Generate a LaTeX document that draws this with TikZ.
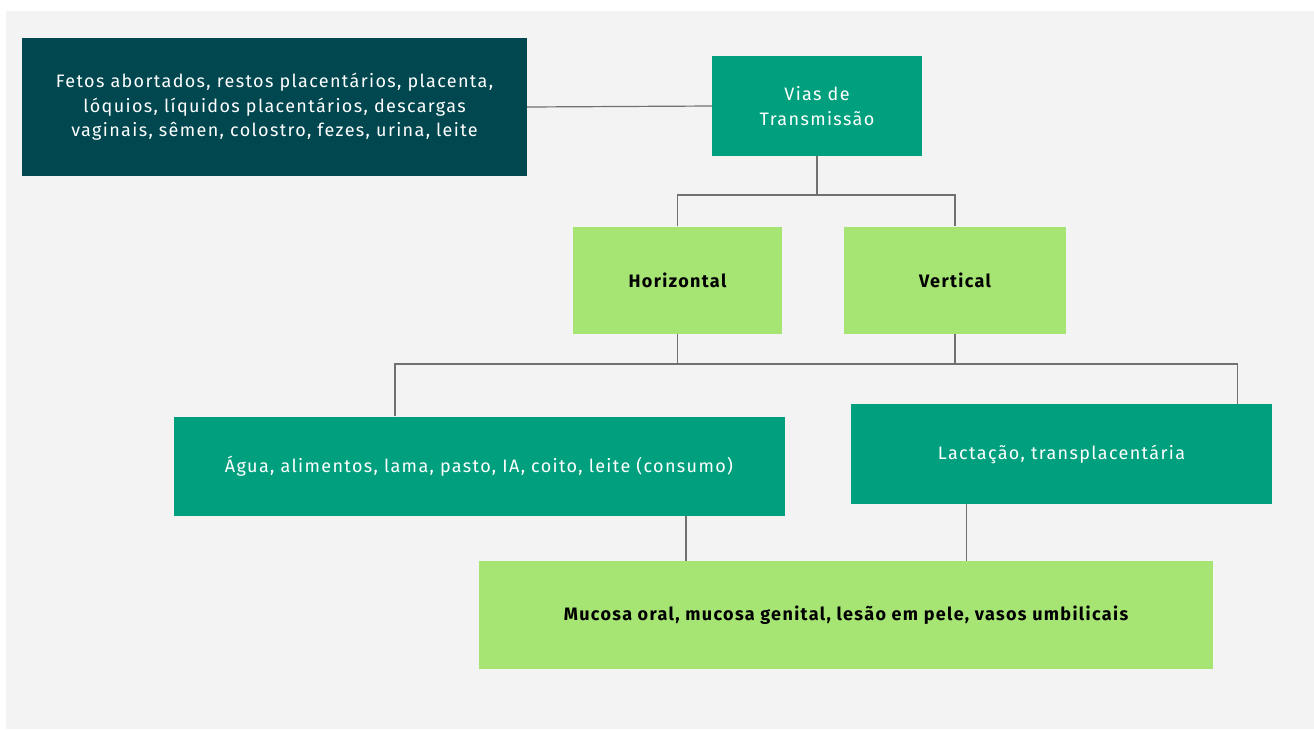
\documentclass[tikz,border=0pt]{standalone}
\usepackage{fontspec}
\setmainfont{Fira Sans}[LetterSpace=7.5]
\usepackage{xcolor}
\usetikzlibrary{positioning}

\definecolor{darkteal}{HTML}{00474F}
\definecolor{teal}{HTML}{00A07E}
\definecolor{lightgreen}{HTML}{A6E574}
\definecolor{bggray}{HTML}{F3F3F3}
\definecolor{linegray}{HTML}{707070}

\tikzset{
  box/.style={inner sep=0pt, align=center, font=\fontsize{18}{24.5}\selectfont},
  darkbox/.style={box, fill=darkteal, text=white},
  tealbox/.style={box, fill=teal, text=white},
  greenbox/.style={box, fill=lightgreen, text=black, font=\fontsize{18}{24.5}\selectfont\bfseries},
  link/.style={draw=linegray, line width=1.2pt}
}

\begin{document}
\begin{tikzpicture}[x=1pt, y=-1pt]
  \useasboundingbox (0,0) rectangle (1314,729);
  \fill[white] (0,0) rectangle (1314,729);
  \fill[bggray] (6,11) rectangle (1314,729);

  % top row
  \node[darkbox, minimum width=505pt, minimum height=138pt] (sources) at (274.5,107)
    {Fetos abortados, restos placentários, placenta,\\
     lóquios, líquidos placentários, descargas\\
     vaginais, sêmen, colostro, fezes, urina, leite};
  \node[tealbox, minimum width=210pt, minimum height=100pt] (vias) at (817,106)
    {Vias de\\Transmissão};

  % routes
  \node[greenbox, minimum width=209pt, minimum height=107pt] (hor) at (677.5,280) {Horizontal};
  \node[greenbox, minimum width=222pt, minimum height=107pt] (vert) at (955,280) {Vertical};

  % means
  \node[tealbox, minimum width=611pt, minimum height=99pt] (agua) at (479,466)
    {Água, alimentos, lama, pasto, IA, coito, leite (consumo)};
  \node[tealbox, minimum width=421pt, minimum height=100pt] (lact) at (1061.5,454)
    {Lactação, transplacentária};

  % entry
  \node[greenbox, minimum width=734pt, minimum height=108pt] (mucosa) at (846,615)
    {Mucosa oral, mucosa genital, lesão em pele, vasos umbilicais};

  \coordinate (bus1) at (vias.south |- 0,195);
  \coordinate (bus2) at (hor.south |- 0,364);
  \coordinate (aguaIn) at ([xshift=-84pt]agua.north);
  \coordinate (lactIn) at ([xshift=176pt]lact.north);
  \coordinate (aguaOut) at ([xshift=207pt]agua.south);
  \coordinate (lactOut) at ([xshift=-95pt]lact.south);

  \draw[link] (sources.east) -- (vias.west);
  \draw[link] (vias.south) -- (bus1);
  \draw[link] (hor.north) |- (bus1) -| (vert.north);
  \draw[link] (hor.south) -- (bus2);
  \draw[link] (vert.south) -- (vert.south |- bus2);
  \draw[link] (aguaIn) |- (bus2) -| (lactIn);
  \draw[link] (aguaOut) -- (aguaOut |- mucosa.north);
  \draw[link] (lactOut) -- (lactOut |- mucosa.north);
\end{tikzpicture}
\end{document}
